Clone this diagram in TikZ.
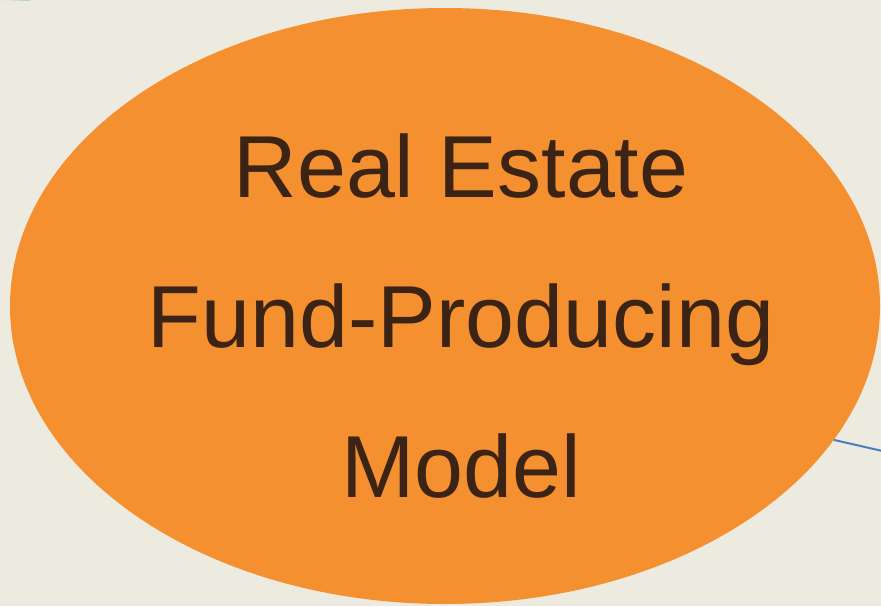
\documentclass[tikz,border=0pt]{standalone}
\usepackage{fontspec}
\setmainfont{Liberation Sans}
\usetikzlibrary{shapes.geometric}

\definecolor{paper}{HTML}{EDEAE0}
\definecolor{fundorange}{HTML}{F4902F}
\definecolor{darkbrown}{HTML}{3B2416}
\definecolor{linkblue}{HTML}{4A7DC0}
\definecolor{tealedge}{HTML}{9CC7C8}

\tikzset{
    blob/.style={ellipse, fill=fundorange, inner sep=0pt,
        minimum width=870pt, minimum height=596pt},
    title/.style={text=darkbrown, align=center, inner sep=0pt,
        font=\fontsize{88}{150}\selectfont},
    link/.style={draw=linkblue, line width=2pt}
}

\begin{document}
\begin{tikzpicture}[x=1pt,y=-1pt]
    \useasboundingbox (0,0) rectangle (881,606);
    \clip (0,0) rectangle (881,606);
    \fill[paper] (0,0) rectangle (881,606);
% edges leaving the frame
    \coordinate (tl) at (-5,-1);
    \coordinate (tr) at (30,0);
    \draw[tealedge, line width=1.5pt] (tl) -- (tr);
    \coordinate (exit) at (900,455);
% the main bubble
    \node[blob] (fund) at (445,306) {};
    \draw[link] (fund.-19.5) -- (exit);
    \node[title] (name) at (461,316) {Real Estate\\Fund-Producing\\Model};
\end{tikzpicture}
\end{document}
